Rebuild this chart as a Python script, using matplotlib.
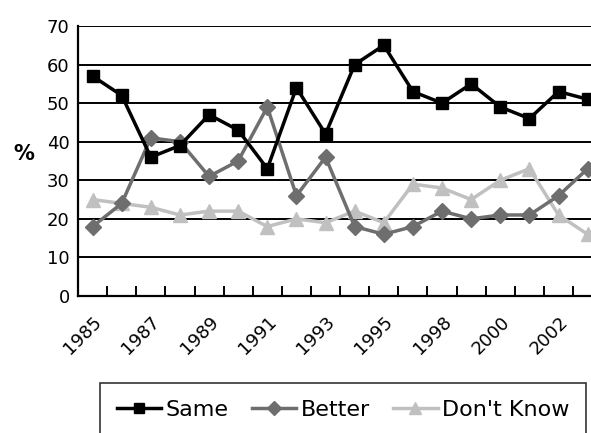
import matplotlib
matplotlib.use("Agg")
import matplotlib.pyplot as plt
from matplotlib.ticker import FixedLocator

plt.rcParams['font.family'] = ['DejaVu Sans']

years = ["1985", "1986", "1987", "1988", "1989", "1990", "1991", "1992", "1993",
         "1994", "1995", "1997", "1998", "1999", "2000", "2001", "2002", "2003"]
same = [57, 52, 36, 39, 47, 43, 33, 54, 42, 60, 65, 53, 50, 55, 49, 46, 53, 51]
better = [18, 24, 41, 40, 31, 35, 49, 26, 36, 18, 16, 18, 22, 20, 21, 21, 26, 33]
dont_know = [25, 24, 23, 21, 22, 22, 18, 20, 19, 22, 19, 29, 28, 25, 30, 33, 21, 16]

fig = plt.figure(figsize=(5.91, 4.33), dpi=100)
ax = fig.add_axes([0.132, 0.3164, 0.887, 0.6236])

x = list(range(len(years)))
ax.plot(x, dont_know, color="#c0c0c0", lw=2.5, marker="^", ms=10, label="Don't Know", zorder=3)
ax.plot(x, better, color="#6e6e6e", lw=2.5, marker="D", ms=8.5, label="Better", zorder=4)
ax.plot(x, same, color="black", lw=2.5, marker="s", ms=9, label="Same", zorder=5)

ax.set_xlim(-0.5, len(years) - 0.5)
ax.set_ylim(0, 70)
ax.set_yticks(range(0, 71, 10))
ax.yaxis.grid(True, color="black", lw=1.4)
ax.set_axisbelow(True)
ax.tick_params(axis="y", length=0, labelsize=13, pad=6)

# tick marks on category boundaries, labels on every other category
ax.xaxis.set_major_locator(FixedLocator([i + 0.5 for i in range(len(years) - 1)]))
ax.set_xticklabels([])
ax.tick_params(axis="x", which="major", direction="in", length=7, width=1.4)
ax.xaxis.set_minor_locator(FixedLocator(x[::2]))
ax.set_xticklabels(years[::2], minor=True, rotation=45, ha="right",
                   rotation_mode="anchor", fontsize=13)
ax.tick_params(axis="x", which="minor", length=0, pad=12)

for s in ["top", "right"]:
    ax.spines[s].set_visible(False)
for s in ["left", "bottom"]:
    ax.spines[s].set_linewidth(1.6)

fig.text(0.04, 0.645, "%", fontsize=15, fontweight="bold", ha="center", va="center")

h, l = ax.get_legend_handles_labels()
order = [2, 1, 0]
leg = fig.legend([h[i] for i in order], [l[i] for i in order], loc="upper left",
                 bbox_to_anchor=(0.169, 0.1155), ncol=3, fontsize=16, frameon=True,
                 fancybox=False, edgecolor="black", handlelength=2.0, handletextpad=0.2,
                 columnspacing=1.05, borderpad=0.75, borderaxespad=0, markerscale=0.8)
leg.get_frame().set_linewidth(1.2)

fig.savefig("out.png", dpi=100)
